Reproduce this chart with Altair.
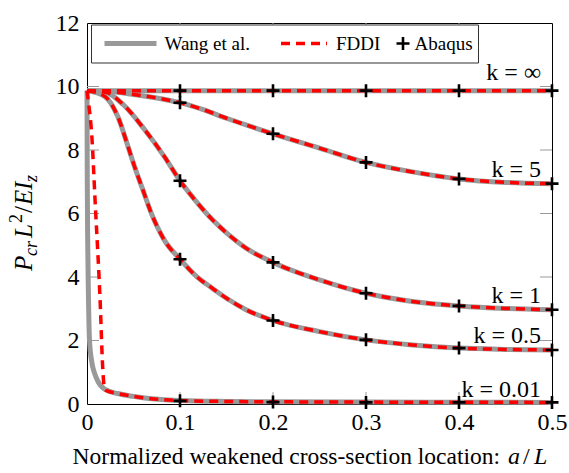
import altair as alt
import pandas as pd

# ---- data ---------------------------------------------------------------
# Normalized critical load P_cr L^2 / EI_z versus weakened-section location a/L
k_labels = ["k = ∞", "k = 5", "k = 1", "k = 0.5", "k = 0.01"]

k_inf_x = [0.0, 0.5]
k_inf_y = [9.87, 9.87]

k5_x = [0.0, 0.025, 0.05, 0.075, 0.1, 0.125, 0.15, 0.175, 0.2, 0.25, 0.3, 0.35, 0.4, 0.45, 0.5]
k5_y = [9.87, 9.84, 9.75, 9.64, 9.49, 9.27, 9.0, 8.75, 8.51, 8.06, 7.61, 7.31, 7.09, 6.98, 6.94]

k1_x = [0.0, 0.02, 0.04, 0.062, 0.083, 0.1, 0.12, 0.135, 0.15, 0.171, 0.2, 0.25, 0.3, 0.35, 0.4, 0.45, 0.5]
k1_y = [9.87, 9.82, 9.4, 8.64, 7.8, 7.03, 6.29, 5.8, 5.39, 4.91, 4.46, 3.91, 3.49, 3.23, 3.09, 3.01, 2.97]

k05_x = [0.0, 0.019, 0.033, 0.044, 0.051, 0.06, 0.069, 0.083, 0.1, 0.118, 0.135, 0.15, 0.171, 0.2,
         0.25, 0.3, 0.35, 0.4, 0.45, 0.5]
k05_y = [9.87, 9.69, 9.06, 8.12, 7.49, 6.75, 6.02, 5.17, 4.56, 4.01, 3.64, 3.33, 2.97, 2.63,
         2.28, 2.02, 1.86, 1.76, 1.72, 1.70]

# k = 0.01: closed-form (Wang et al.) and FDDI differ close to the support
k001_wang_x = [0.0, 0.0003, 0.0008, 0.0015, 0.0027, 0.005, 0.008, 0.012, 0.015, 0.02, 0.033,
               0.05, 0.062, 0.08, 0.1, 0.15, 0.2, 0.3, 0.4, 0.5]
k001_wang_y = [9.87, 7.0, 5.0, 3.5, 2.0, 1.35, 0.98, 0.7, 0.57, 0.45, 0.33,
               0.24, 0.19, 0.14, 0.11, 0.08, 0.07, 0.06, 0.055, 0.05]
k001_fddi_x = [0.0, 0.0016, 0.0052, 0.0088, 0.0142, 0.017, 0.0188, 0.021, 0.033,
               0.05, 0.062, 0.08, 0.1, 0.15, 0.2, 0.3, 0.4, 0.5]
k001_fddi_y = [9.87, 9.5, 8.43, 6.34, 3.19, 1.07, 0.5, 0.42, 0.33,
               0.24, 0.19, 0.14, 0.11, 0.08, 0.07, 0.06, 0.055, 0.05]

# Abaqus finite-element results
abaqus_x = [0.1, 0.2, 0.3, 0.4, 0.5]
abaqus_k_inf = [9.87, 9.87, 9.87, 9.87, 9.87]
abaqus_k5 = [9.49, 8.51, 7.61, 7.09, 6.94]
abaqus_k1 = [7.03, 4.46, 3.49, 3.09, 2.97]
abaqus_k05 = [4.56, 2.63, 2.02, 1.76, 1.70]
abaqus_k001 = [0.10, 0.06, 0.05, 0.05, 0.05]

x_ticks = [0, 0.1, 0.2, 0.3, 0.4, 0.5]
y_ticks = [0, 2, 4, 6, 8, 10, 12]


def long_table(pairs):
    rows = []
    for name, xs, ys in pairs:
        for xv, yv in zip(xs, ys):
            rows.append({"series": name, "x": xv, "y": yv})
    return pd.DataFrame(rows)


wang = long_table([
    ("inf", k_inf_x, k_inf_y), ("5", k5_x, k5_y), ("1", k1_x, k1_y),
    ("0.5", k05_x, k05_y), ("0.01", k001_wang_x, k001_wang_y),
])
fddi = long_table([
    ("inf", k_inf_x, k_inf_y), ("5", k5_x, k5_y), ("1", k1_x, k1_y),
    ("0.5", k05_x, k05_y), ("0.01", k001_fddi_x, k001_fddi_y),
])
abaqus = long_table([
    ("inf", abaqus_x, abaqus_k_inf), ("5", abaqus_x, abaqus_k5), ("1", abaqus_x, abaqus_k1),
    ("0.5", abaqus_x, abaqus_k05), ("0.01", abaqus_x, abaqus_k001),
])

# ---- styling ------------------------------------------------------------
FONT = "Liberation Serif"
W, H = 465, 381
GRAY = "#999999"
RED = "#ff0000"
TICK = "#9a9a9a"
PLUS = "M-1,0H1M0,-1V1"

xscale = alt.Scale(domain=[0, 0.5], nice=False, zero=False)
yscale = alt.Scale(domain=[0, 12], nice=False, zero=False)
xaxis = alt.Axis(values=x_ticks, title=None, grid=False, ticks=False, domain=False,
                 labelFont=FONT, labelFontSize=24, labelColor="black", labelPadding=6,
                 labelFlush=False, labelOverlap=False, format="~g")
yaxis = alt.Axis(values=y_ticks, title=None, grid=False, ticks=False, domain=False,
                 labelFont=FONT, labelFontSize=24, labelColor="black", labelPadding=8,
                 labelOverlap=False, format="~g")


def X(field="x"):
    return alt.X(f"{field}:Q", scale=xscale, axis=xaxis)


def Y(field="y"):
    return alt.Y(f"{field}:Q", scale=yscale, axis=yaxis)


one = pd.DataFrame({"_": [0]})

# inward tick marks on all four sides
xt = pd.DataFrame({"x": x_ticks[1:-1]})
yt = pd.DataFrame({"y": y_ticks[1:-1]})
ticks_bottom = alt.Chart(xt).mark_rule(color=TICK, strokeWidth=1).encode(
    x=X(), y=alt.value(H), y2=alt.value(H - 12))
ticks_top = alt.Chart(xt).mark_rule(color=TICK, strokeWidth=1).encode(
    x=X(), y=alt.value(0), y2=alt.value(12))
ticks_left = alt.Chart(yt).mark_rule(color=TICK, strokeWidth=1).encode(
    y=Y(), x=alt.value(0), x2=alt.value(12))
ticks_right = alt.Chart(yt).mark_rule(color=TICK, strokeWidth=1).encode(
    y=Y(), x=alt.value(W - 12), x2=alt.value(W))

wang_lines = alt.Chart(wang).mark_line(
    color=GRAY, strokeWidth=5, interpolate="monotone"
).encode(x=X(), y=Y(), detail="series:N")

fddi_lines = alt.Chart(fddi).mark_line(
    color=RED, strokeWidth=3.5, strokeDash=[9, 6], interpolate="monotone"
).encode(x=X(), y=Y(), detail="series:N")

abaqus_pts = alt.Chart(abaqus).mark_point(
    shape=PLUS, filled=False, stroke="black", strokeWidth=2.6, size=169, opacity=1
).encode(x=X(), y=Y())

# curve annotations
label_specs = [(57, k_labels[0]), (153.5, k_labels[1]), (279.5, k_labels[2]),
               (319.5, k_labels[3]), (373.5, k_labels[4])]
curve_labels = [
    alt.Chart(one).mark_text(font=FONT, fontSize=24, align="right", baseline="alphabetic",
                             color="black", text=t).encode(x=alt.value(454), y=alt.value(py))
    for py, t in label_specs
]

# legend box
legend_box = alt.Chart(one).mark_rect(fill="white", stroke="#333333", strokeWidth=1).encode(
    x=alt.value(4.5), x2=alt.value(391.5), y=alt.value(2), y2=alt.value(40))
legend_wang = alt.Chart(one).mark_rule(color=GRAY, strokeWidth=5).encode(
    x=alt.value(17.5), x2=alt.value(69.5), y=alt.value(20.5))
legend_fddi = alt.Chart(one).mark_rule(color=RED, strokeWidth=3.5, strokeDash=[9, 6]).encode(
    x=alt.value(194), x2=alt.value(240), y=alt.value(20.5))
legend_abaqus = alt.Chart(one).mark_point(
    shape=PLUS, filled=False, stroke="black", strokeWidth=2.6, size=169, opacity=1
).encode(x=alt.value(316), y=alt.value(20.5))
legend_texts = [
    alt.Chart(one).mark_text(font=FONT, fontSize=19, align="left", baseline="middle",
                             color="black", text=t).encode(x=alt.value(px), y=alt.value(20.5))
    for px, t in [(77.5, "Wang et al."), (249, "FDDI"), (327.5, "Abaqus")]
]

# x-axis title: upright text followed by italic a/L
xtitle_main = alt.Chart(one).mark_text(
    font=FONT, fontSize=23.5, align="right", baseline="alphabetic", color="black",
    text="Normalized weakened cross-section location:"
).encode(x=alt.value(413), y=alt.value(441))
xtitle_a = alt.Chart(one).mark_text(
    font=FONT, fontSize=24, fontStyle="italic", align="left", baseline="alphabetic",
    color="black", text="a"
).encode(x=alt.value(421), y=alt.value(441))
xtitle_slash = alt.Chart(one).mark_text(
    font=FONT, fontSize=24, align="left", baseline="alphabetic", color="black", text="/"
).encode(x=alt.value(436), y=alt.value(441))
xtitle_L = alt.Chart(one).mark_text(
    font=FONT, fontSize=24, fontStyle="italic", align="left", baseline="alphabetic",
    color="black", text="L"
).encode(x=alt.value(447), y=alt.value(441))

# y-axis title  P_cr L^2 / EI_z  (rotated, built from pieces)
YT_X, YT_Y = -55, 248


def ypiece(text, dx, dy=0, size=25, italic=True):
    kw = dict(font=FONT, fontSize=size, angle=270, align="left", baseline="alphabetic",
              color="black", text=text, dx=dx, dy=dy)
    if italic:
        kw["fontStyle"] = "italic"
    return alt.Chart(one).mark_text(**kw).encode(x=alt.value(YT_X), y=alt.value(YT_Y))


ytitle = [
    ypiece("P", 0),
    ypiece("cr", 15, dy=5, size=18),
    ypiece("L", 33),
    ypiece("2", 48, dy=-10, size=18, italic=False),
    ypiece("/", 58, italic=False),
    ypiece("E", 66),
    ypiece("I", 81),
    ypiece("z", 89, dy=5, size=18),
]

chart = alt.layer(
    ticks_bottom, ticks_top, ticks_left, ticks_right,
    wang_lines, fddi_lines, abaqus_pts,
    *curve_labels,
    legend_box, legend_wang, legend_fddi, legend_abaqus, *legend_texts,
    xtitle_main, xtitle_a, xtitle_slash, xtitle_L,
    *ytitle,
).properties(
    width=W, height=H, autosize="none",
    padding={"left": 87, "top": 23, "right": 17, "bottom": 69},
    background="white",
).configure_view(stroke="black", strokeWidth=1)

chart.save("out.html", embed_options={"renderer": "svg", "actions": False})
